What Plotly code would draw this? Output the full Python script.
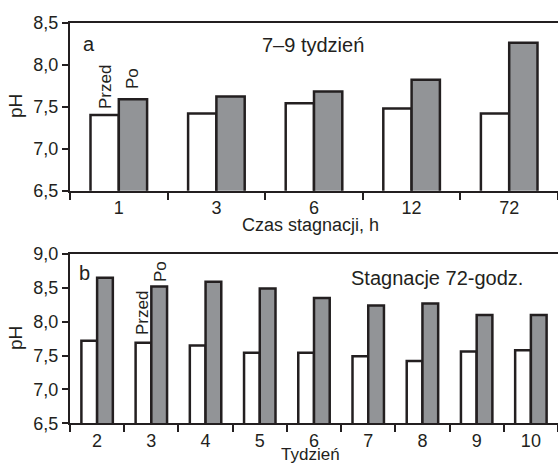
import plotly.graph_objects as go

# Panel a data
cat_a = ["1", "3", "6", "12", "72"]
przed_a = [7.40, 7.42, 7.54, 7.48, 7.42]
po_a = [7.59, 7.62, 7.68, 7.82, 8.26]

# Panel b data
cat_b = ["2", "3", "4", "5", "6", "7", "8", "9", "10"]
przed_b = [7.72, 7.69, 7.65, 7.54, 7.54, 7.49, 7.42, 7.56, 7.58]
po_b = [8.65, 8.52, 8.59, 8.49, 8.35, 8.24, 8.27, 8.10, 8.10]

W, H = 558, 463
L = 70
FONT = "Liberation Sans, Arial, sans-serif"
INK = "#231f20"
GRAY = "#929497"

def px(x):
    return (x - L) / (W - L)

def py(y):
    return (H - y) / H

fig = go.Figure()
bar_line = dict(color=INK, width=2.5)
fig.add_trace(go.Bar(x=cat_a, y=przed_a, marker=dict(color="white", line=bar_line),
                     xaxis="x", yaxis="y", showlegend=False))
fig.add_trace(go.Bar(x=cat_a, y=po_a, marker=dict(color=GRAY, line=bar_line),
                     xaxis="x", yaxis="y", showlegend=False))
fig.add_trace(go.Bar(x=cat_b, y=przed_b, marker=dict(color="white", line=bar_line),
                     xaxis="x2", yaxis="y2", showlegend=False))
fig.add_trace(go.Bar(x=cat_b, y=po_b, marker=dict(color=GRAY, line=bar_line),
                     xaxis="x2", yaxis="y2", showlegend=False))

xcommon = dict(type="category", showline=True, linecolor=INK, linewidth=2, mirror=True,
               ticks="outside", tickson="boundaries", ticklen=7, tickwidth=2, tickcolor=INK,
               showgrid=False, zeroline=False, tickfont=dict(size=18, color=INK, family=FONT),
               domain=[0, 1])
ycommon = dict(showline=True, linecolor=INK, linewidth=2, ticks="outside", ticklen=6,
               tickwidth=2, tickcolor=INK, showgrid=False, zeroline=False, dtick=0.5,
               tickformat=".1f", tickfont=dict(size=18, color=INK, family=FONT))

fig.update_layout(
    width=W, height=H,
    margin=dict(l=L, r=0, t=0, b=0, autoexpand=False),
    paper_bgcolor="white", plot_bgcolor="white",
    separators=", ",
    barmode="group", bargap=0.42, bargroupgap=0,
    font=dict(family=FONT, color=INK, size=18),
    xaxis=dict(xcommon, anchor="y"),
    yaxis=dict(ycommon, anchor="x", range=[6.5, 8.5], domain=[py(190.7), py(22.7)]),
    xaxis2=dict(xcommon, anchor="y2"),
    yaxis2=dict(ycommon, anchor="x2", range=[6.5, 9.0], domain=[py(423.3), py(254)]),
)

def ann(text, x, y, size=18, angle=0):
    fig.add_annotation(text=text, x=px(x), y=py(y), xref="paper", yref="paper",
                       showarrow=False, textangle=angle, borderpad=0,
                       font=dict(size=size, color=INK, family=FONT),
                       xanchor="center", yanchor="middle")

ann("a", 89, 44, size=20)
ann("7–9 tydzień", 313, 45, size=20)
ann("b", 84, 273, size=20)
ann("Stagnacje 72-godz.", 437, 278, size=20)
ann("Przed", 105, 87, size=17, angle=-90)
ann("Po", 132, 79, size=17, angle=-90)
ann("Przed", 142, 313, size=17, angle=-90)
ann("Po", 160, 272, size=17, angle=-90)
ann("pH", 15, 106, size=19, angle=-90)
ann("pH", 15, 338, size=19, angle=-90)
ann("Czas stagnacji, h", 310, 225)
ann("Tydzień", 310, 454, size=17)

fig.write_html("out.html", config={"displayModeBar": False},
               post_script="document.body.style.margin='0px';")
